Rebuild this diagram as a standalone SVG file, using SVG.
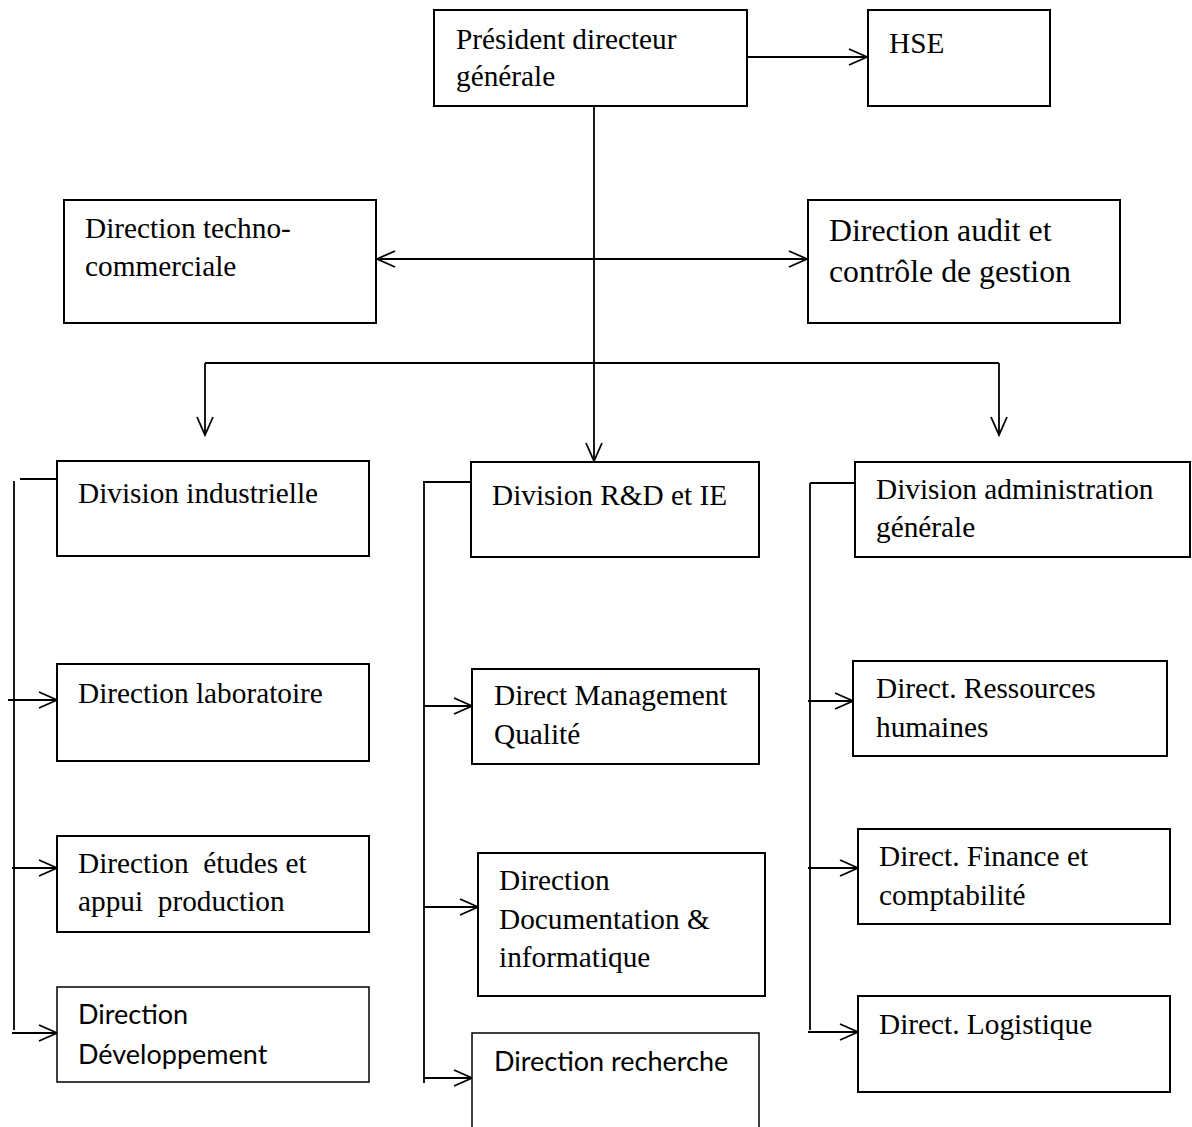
<svg xmlns="http://www.w3.org/2000/svg" width="1192" height="1127" viewBox="0 0 1192 1127">
  <style>
    .box { fill: #fff; stroke: #000; stroke-width: 2; }
    .thin { fill: #fff; stroke: #000; stroke-width: 1.5; }
    .t { font-family: "Liberation Serif", "Times New Roman", serif; font-size: 29.3px; fill: #000; }
    .tl { font-family: "Liberation Serif", "Times New Roman", serif; font-size: 31.8px; fill: #000; }
    .c { font-family: Lato, "Open Sans", sans-serif; font-size: 27px; fill: #000; }
    .ln { fill: none; stroke: #000; stroke-width: 1.8; }
  </style>
  <defs>
    <marker id="arr" markerUnits="userSpaceOnUse" markerWidth="22" markerHeight="20" refX="19" refY="9" orient="auto-start-reverse" viewBox="0 0 22 18">
      <path d="M1,1 L19,9 L1,17" fill="none" stroke="#000" stroke-width="1.8"/>
    </marker>
  </defs>
  <rect width="1192" height="1127" fill="#fff"/>

  <!-- connectors -->
  <g id="connectors">
    <line class="ln" x1="747" y1="57" x2="867" y2="57" marker-end="url(#arr)"/>
    <line class="ln" x1="594" y1="106" x2="594" y2="461" marker-end="url(#arr)"/>
    <line class="ln" x1="377" y1="259" x2="807" y2="259" marker-start="url(#arr)" marker-end="url(#arr)"/>
    <line class="ln" x1="205" y1="363" x2="999" y2="363"/>
    <line class="ln" x1="205" y1="363" x2="205" y2="435" marker-end="url(#arr)"/>
    <line class="ln" x1="999" y1="363" x2="999" y2="435" marker-end="url(#arr)"/>

    <!-- industrial division branch -->
    <line class="ln" x1="20" y1="479" x2="57" y2="479"/>
    <line class="ln" x1="14" y1="481" x2="14" y2="1030"/>
    <line class="ln" x1="8" y1="700" x2="57" y2="700" marker-end="url(#arr)"/>
    <line class="ln" x1="12" y1="868" x2="57" y2="868" marker-end="url(#arr)"/>
    <line class="ln" x1="12" y1="1033" x2="57" y2="1033" marker-end="url(#arr)"/>

    <!-- R&D division branch -->
    <line class="ln" x1="423" y1="482" x2="471" y2="482"/>
    <line class="ln" x1="424" y1="482" x2="424" y2="1083"/>
    <line class="ln" x1="424" y1="706" x2="472" y2="706" marker-end="url(#arr)"/>
    <line class="ln" x1="424" y1="907" x2="478" y2="907" marker-end="url(#arr)"/>
    <line class="ln" x1="424" y1="1078" x2="472" y2="1078" marker-end="url(#arr)"/>

    <!-- administration division branch -->
    <line class="ln" x1="810" y1="483" x2="855" y2="483"/>
    <line class="ln" x1="810" y1="483" x2="810" y2="1030"/>
    <line class="ln" x1="808" y1="701" x2="853" y2="701" marker-end="url(#arr)"/>
    <line class="ln" x1="808" y1="868" x2="858" y2="868" marker-end="url(#arr)"/>
    <line class="ln" x1="808" y1="1032" x2="858" y2="1032" marker-end="url(#arr)"/>
  </g>

  <g id="pdg">
    <rect class="box" x="434" y="10" width="313" height="96"/>
    <text class="t" x="456" y="49">Président directeur</text>
    <text class="t" x="456" y="86">générale</text>
  </g>
  <g id="hse">
    <rect class="box" x="868" y="10" width="182" height="96"/>
    <text class="t" x="889" y="53">HSE</text>
  </g>
  <g id="techno-commerciale">
    <rect class="box" x="64" y="200" width="312" height="123"/>
    <text class="t" x="85" y="238">Direction techno-</text>
    <text class="t" x="85" y="276">commerciale</text>
  </g>
  <g id="audit">
    <rect class="box" x="808" y="200" width="312" height="123"/>
    <text class="tl" x="829" y="241">Direction audit et</text>
    <text class="tl" x="829" y="282">contrôle de gestion</text>
  </g>

  <g id="div-industrielle">
    <rect class="box" x="57" y="461" width="312" height="95"/>
    <text class="t" x="78" y="503">Division industrielle</text>
  </g>
  <g id="dir-laboratoire">
    <rect class="box" x="57" y="664" width="312" height="97"/>
    <text class="t" x="78" y="703">Direction laboratoire</text>
  </g>
  <g id="dir-etudes">
    <rect class="box" x="57" y="836" width="312" height="96"/>
    <text class="t" x="78" y="873" xml:space="preserve">Direction  études et</text>
    <text class="t" x="78" y="911" xml:space="preserve">appui  production</text>
  </g>
  <g id="dir-developpement">
    <rect class="thin" x="57" y="987" width="312" height="95"/>
    <text class="c" x="78" y="1024">Direction</text>
    <text class="c" x="78" y="1064">Développement</text>
  </g>

  <g id="div-rd">
    <rect class="box" x="471" y="462" width="288" height="95"/>
    <text class="t" x="492" y="505">Division R&amp;D et IE</text>
  </g>
  <g id="dir-qualite">
    <rect class="box" x="472" y="669" width="287" height="95"/>
    <text class="t" x="494" y="705">Direct Management</text>
    <text class="t" x="494" y="744">Qualité</text>
  </g>
  <g id="dir-documentation">
    <rect class="box" x="478" y="853" width="287" height="143"/>
    <text class="t" x="499" y="890">Direction</text>
    <text class="t" x="499" y="929">Documentation &amp;</text>
    <text class="t" x="499" y="967">informatique</text>
  </g>
  <g id="dir-recherche">
    <rect class="thin" x="472" y="1033" width="287" height="110"/>
    <text class="c" x="494" y="1071">Direction recherche</text>
  </g>

  <g id="div-administration">
    <rect class="box" x="855" y="462" width="335" height="95"/>
    <text class="t" x="876" y="499">Division administration</text>
    <text class="t" x="876" y="537">générale</text>
  </g>
  <g id="dir-rh">
    <rect class="box" x="853" y="661" width="314" height="95"/>
    <text class="t" x="876" y="698">Direct. Ressources</text>
    <text class="t" x="876" y="737">humaines</text>
  </g>
  <g id="dir-finance">
    <rect class="box" x="858" y="829" width="312" height="95"/>
    <text class="t" x="879" y="866">Direct. Finance et</text>
    <text class="t" x="879" y="905">comptabilité</text>
  </g>
  <g id="dir-logistique">
    <rect class="box" x="858" y="996" width="312" height="96"/>
    <text class="t" x="879" y="1034">Direct. Logistique</text>
  </g>
</svg>
